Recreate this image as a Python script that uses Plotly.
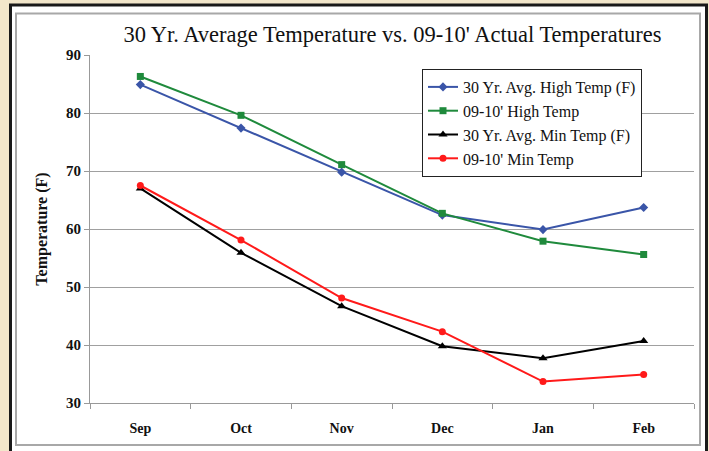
import plotly.graph_objects as go

months = ["Sep", "Oct", "Nov", "Dec", "Jan", "Feb"]
avg_high = [84.9, 77.4, 69.8, 62.4, 59.9, 63.7]
act_high = [86.3, 79.6, 71.1, 62.7, 57.9, 55.6]
avg_min = [67.0, 55.9, 46.7, 39.8, 37.7, 40.7]
act_min = [67.5, 58.1, 48.1, 42.3, 33.7, 34.9]

series = [
    ("30 Yr. Avg. High Temp (F)", avg_high, "#3a55a8", "diamond", 7),
    ("09-10' High Temp", act_high, "#1f8a3c", "square", 7),
    ("30 Yr. Avg. Min Temp (F)", avg_min, "#000000", "triangle-up", 8),
    ("09-10' Min Temp", act_min, "#ff1a1a", "circle", 7),
]

fig = go.Figure()
for i, (name, vals, color, sym, sz) in enumerate(series):
    fig.add_trace(go.Scatter(
        x=months, y=vals, name=name, mode="lines+markers",
        line=dict(color=color, width=2),
        marker=dict(symbol=sym, size=sz, color=color),
        legendgroup=f"g{i}",
    ))

W, H = 709, 451
L, R, T, B = 90, 15, 55, 48
pw, ph = W - L - R, H - T - B

def px(x):
    return (x - L) / pw

def py(y):
    return (H - B - y) / ph

shapes = [
    dict(type="rect", xref="paper", yref="paper", layer="below",
         x0=px(10.5), x1=px(706.5), y0=py(460), y1=py(5),
         fillcolor="white", line=dict(color="#1a1a1a", width=3)),
    dict(type="rect", xref="paper", yref="paper", layer="below",
         x0=px(16), x1=px(700), y0=py(445), y1=py(13.5),
         fillcolor="white", line=dict(color="#a8a8a8", width=2)),
]

serif = "Liberation Serif, Times New Roman, serif"

fig.update_layout(
    width=W, height=H,
    margin=dict(l=L, r=R, t=T, b=B),
    paper_bgcolor="#F3E7CB",
    plot_bgcolor="rgba(0,0,0,0)",
    shapes=shapes,
    title=dict(text="30 Yr. Average Temperature vs. 09-10' Actual Temperatures",
               x=392.5 / W, xanchor="center", y=1 - 34 / H, yanchor="middle",
               font=dict(family=serif, size=22.5, color="#111111")),
    font=dict(family=serif, color="#111111"),
    showlegend=True,
    legend=dict(x=px(422), xanchor="left", y=py(69), yanchor="top",
                bgcolor="white", bordercolor="#222222", borderwidth=1,
                font=dict(family=serif, size=16, color="#111111"),
                tracegroupgap=0, traceorder="grouped"),
    xaxis=dict(type="category", tickson="boundaries", ticks="outside", ticklen=5,
               tickcolor="#999999", showline=True, linecolor="#999999", linewidth=1,
               showgrid=False, ticklabelstandoff=12,
               tickfont=dict(family=serif, size=14, color="#111111", weight="bold"),
               range=[-0.5, 5.5]),
    yaxis=dict(range=[30, 90], dtick=10, ticks="outside", ticklen=5, tickcolor="#999999",
               showline=True, linecolor="#999999", linewidth=1,
               showgrid=True, gridcolor="#a0a0a0", gridwidth=1, zeroline=False,
               tickfont=dict(family=serif, size=15, color="#111111", weight="bold"),
               title=dict(text="Temperature (F)", standoff=14,
                          font=dict(family=serif, size=16, color="#111111", weight="bold"))),
)

fig.write_html("out.html",
               config={"displayModeBar": False},
               post_script="document.body.style.margin='0';document.body.style.padding='0';")
